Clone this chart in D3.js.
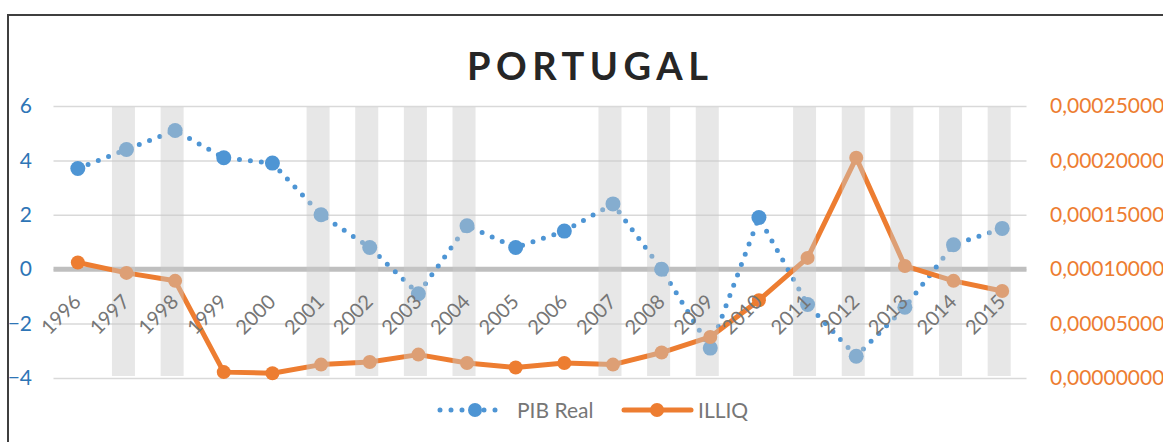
<!DOCTYPE html>
<html>
<head>
<meta charset="utf-8">
<script src="https://d3js.org/d3.v7.min.js"></script>
<style>
    body { margin: 0; background: #fff; }
    svg text { font-family: Lato, "Open Sans", sans-serif; }
    .axis path.domain { display: none; }
</style>
</head>
<body>
<svg id="chart" width="1163" height="442"></svg>

<script>
// data
const years = ["1996","1997","1998","1999","2000","2001","2002","2003","2004","2005",
               "2006","2007","2008","2009","2010","2011","2012","2013","2014","2015"];
const pibReal = [3.7, 4.4, 5.1, 4.1, 3.9, 2.0, 0.8, -0.9, 1.6, 0.8,
                 1.4, 2.4, 0.0, -2.9, 1.9, -1.3, -3.2, -1.4, 0.9, 1.5];
const illiq = [0.0001062, 0.0000966, 0.0000893, 0.0000054, 0.0000044, 0.0000123, 0.0000147, 0.0000215, 0.0000138, 0.0000096,
               0.0000138, 0.0000123, 0.0000234, 0.0000377, 0.0000715, 0.0001104, 0.0002024, 0.0001030, 0.0000893, 0.0000800];
// grey shaded years
const shaded = [0,1,1,0,0,1,1,1,1,0,0,1,1,1,0,1,1,1,1,1];
const leftTicks = [-4, -2, 0, 2, 4, 6];
const rightTicks = [0, 0.00005, 0.0001, 0.00015, 0.0002, 0.00025];

const blue = "#4e95d4";
const orange = "#ED7D31";

const svg = d3.select("#chart");

// frame
svg.append("rect")
   .attr("x", 8).attr("y", 15)
   .attr("width", 1300).attr("height", 600)
   .attr("fill", "none")
   .attr("stroke", "#3f3f3f")
   .attr("stroke-width", 2);

// title
svg.append("text")
   .attr("x", 587.5).attr("y", 80)
   .attr("text-anchor", "middle")
   .attr("textLength", 241)
   .attr("lengthAdjust", "spacing")
   .style("font-size", "38px")
   .style("font-weight", "bold")
   .style("fill", "#262626")
   .text("PORTUGAL");

// scales
const x = d3.scaleBand().domain(years).range([53.5, 1026.5]);
const cx = d => x(d) + x.bandwidth() / 2;
const y = d3.scaleLinear().domain([-4, 6]).range([378, 106]);
const yR = d3.scaleLinear().domain([0, 0.00025]).range([378, 106]);

// gridlines
svg.append("g")
   .attr("class", "axis")
   .attr("transform", "translate(53.5,0)")
   .call(d3.axisLeft(y).tickValues(leftTicks).tickSize(-973).tickFormat(""))
   .selectAll("line")
   .attr("stroke", "#d9d9d9")
   .attr("stroke-width", 1.5);

// zero line
svg.append("line")
   .attr("x1", 53.5).attr("x2", 1026.5)
   .attr("y1", y(0)).attr("y2", y(0))
   .attr("stroke", "#bfbfbf")
   .attr("stroke-width", 5);

// left axis labels
const leftAxis = svg.append("g")
   .attr("class", "axis")
   .attr("transform", "translate(32,0)")
   .call(d3.axisLeft(y).tickValues(leftTicks).tickSize(0).tickPadding(0));
leftAxis.selectAll("text")
   .style("font-size", "21px")
   .style("fill", "#2E75B6");

// right axis labels
const fmtR = v => d3.format(".8f")(v).replace(".", ",");
const rightAxis = svg.append("g")
   .attr("class", "axis")
   .attr("transform", "translate(1050,0)")
   .call(d3.axisRight(yR).tickValues(rightTicks).tickSize(0).tickPadding(0).tickFormat(fmtR));
rightAxis.selectAll("text")
   .style("font-size", "21px")
   .style("fill", orange);

// PIB Real - dotted line
const linePib = d3.line().x((d, i) => cx(years[i])).y(d => y(d));
svg.append("path").datum(pibReal)
   .attr("d", linePib)
   .attr("fill", "none")
   .attr("stroke", blue)
   .attr("stroke-width", 5)
   .attr("stroke-linecap", "round")
   .attr("stroke-dasharray", "0 11");

svg.selectAll("circle.pib").data(pibReal)
   .join("circle")
   .attr("class", "pib")
   .attr("cx", (d, i) => cx(years[i]))
   .attr("cy", d => y(d))
   .attr("r", 7.5)
   .attr("fill", blue);

// ILLIQ
const lineIll = d3.line().x((d, i) => cx(years[i])).y(d => yR(d));
svg.append("path").datum(illiq)
   .attr("d", lineIll)
   .attr("fill", "none")
   .attr("stroke", orange)
   .attr("stroke-width", 5)
   .attr("stroke-linejoin", "round");

svg.selectAll("circle.ill").data(illiq)
   .join("circle")
   .attr("class", "ill")
   .attr("cx", (d, i) => cx(years[i]))
   .attr("cy", d => yR(d))
   .attr("r", 7)
   .attr("fill", orange);

// shaded bands on top
svg.selectAll("rect.band").data(years.filter((d, i) => shaded[i]))
   .join("rect")
   .attr("class", "band")
   .attr("x", d => cx(d) - 14.5)
   .attr("y", 107)
   .attr("width", 23)
   .attr("height", 269)
   .attr("fill", "#cacaca")
   .attr("fill-opacity", 0.45);

// x axis labels
const xAxis = svg.append("g")
   .attr("class", "axis")
   .attr("transform", `translate(0,${y(0)})`)
   .call(d3.axisBottom(x).tickSize(0));
xAxis.selectAll("text")
   .attr("x", null).attr("y", null).attr("dy", null)
   .attr("text-anchor", "end")
   .attr("transform", `translate(4.5,${303 - y(0)}) rotate(-45)`)
   .style("font-size", "20px")
   .style("fill", "#767676");

// legend
const leg = svg.append("g");
leg.append("line")
   .attr("x1", 440).attr("x2", 503).attr("y1", 410).attr("y2", 410)
   .attr("stroke", blue).attr("stroke-width", 5)
   .attr("stroke-linecap", "round").attr("stroke-dasharray", "0 11");
leg.append("circle").attr("cx", 475).attr("cy", 410).attr("r", 7).attr("fill", blue);
leg.append("text").attr("x", 517).attr("y", 418)
   .style("font-size", "21px").style("fill", "#767676").text("PIB Real");

leg.append("line")
   .attr("x1", 624).attr("x2", 691).attr("y1", 410).attr("y2", 410)
   .attr("stroke", orange).attr("stroke-width", 5).attr("stroke-linecap", "round");
leg.append("circle").attr("cx", 657).attr("cy", 410).attr("r", 7).attr("fill", orange);
leg.append("text").attr("x", 698).attr("y", 418)
   .style("font-size", "21px").style("fill", "#767676").text("ILLIQ");
</script>
</body>
</html>
